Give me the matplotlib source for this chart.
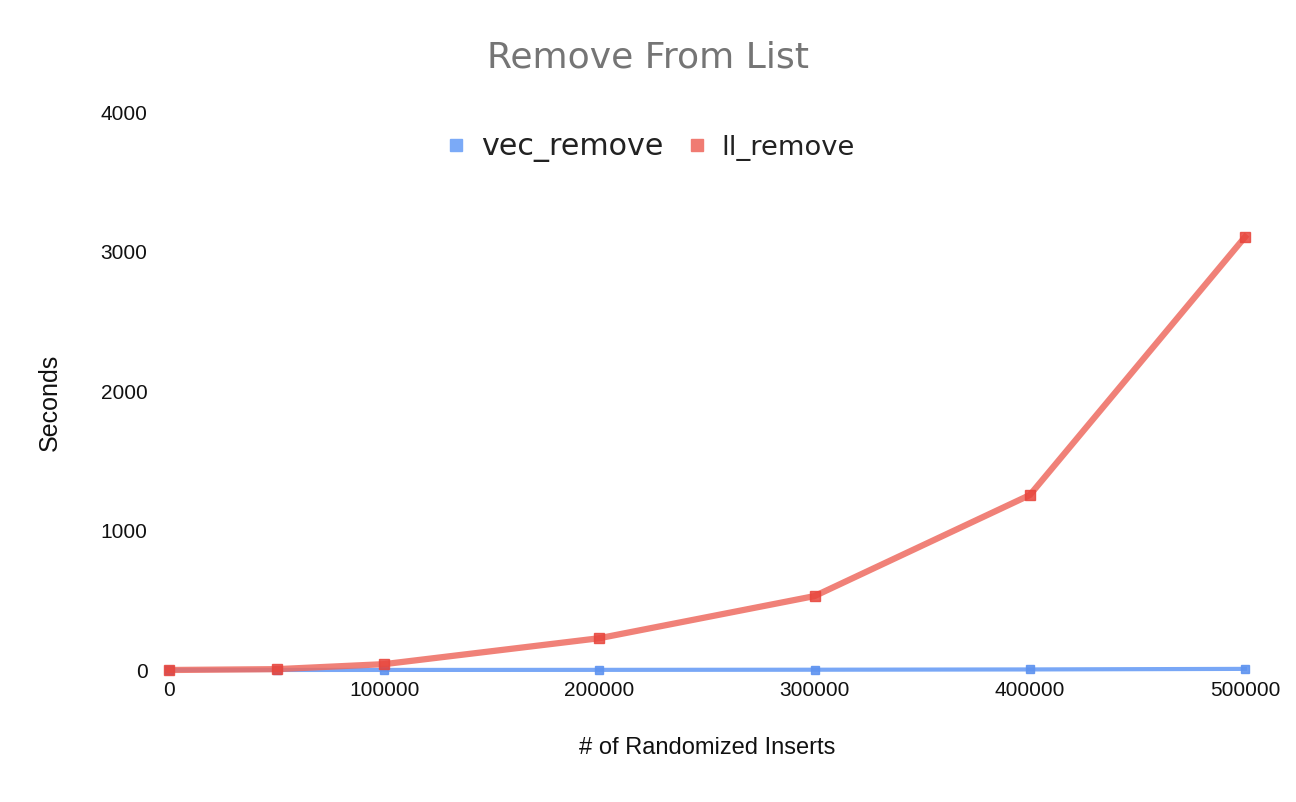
import matplotlib
matplotlib.use("Agg")
import matplotlib.pyplot as plt
from matplotlib.lines import Line2D

inserts = [0, 50000, 100000, 200000, 300000, 400000, 500000]
vec_remove = [0, 0.2, 0.5, 1, 2, 4, 8]
ll_remove = [0, 6, 42, 228, 530, 1254, 3104]

title = "Remove From List"
xlabel = "# of Randomized Inserts"
ylabel = "Seconds"
xticks = [0, 100000, 200000, 300000, 400000, 500000]
yticks = [0, 1000, 2000, 3000, 4000]

blue = "#6a9ef5"
red = "#ee6b60"
red_marker = "#e8453c"
blue_marker = "#5f94f0"

fig = plt.figure(figsize=(12.96, 8.02), dpi=100)
ax = fig.add_axes([169/1296, 1-670/802, (1245-169)/1296, (670-112)/802])

ax.plot(inserts, vec_remove, color=blue, lw=3, alpha=0.9, marker="s", ms=6,
        mfc=blue_marker, mec=blue_marker, clip_on=False, zorder=3)
ax.plot(inserts, ll_remove, color=red, lw=4.5, alpha=0.85, marker="s", ms=7.5,
        mfc=red_marker, mec=red_marker, clip_on=False, zorder=4)

ax.set_xlim(0, 500000)
ax.set_ylim(0, 4000)
ax.set_xticks(xticks)
ax.set_xticklabels([str(v) for v in xticks])
ax.set_yticks(yticks)
ax.set_yticklabels([str(v) for v in yticks])
for s in ax.spines.values():
    s.set_visible(False)
ax.tick_params(axis="both", length=0, labelsize=15, labelcolor="#111111")
ax.tick_params(axis="y", pad=15.5)
ax.tick_params(axis="x", pad=8)
for lab in ax.get_xticklabels() + ax.get_yticklabels():
    lab.set_family(["Liberation Sans", "DejaVu Sans"])

fig.text(0.5, 1-57/802, title, ha="center", va="center", fontsize=26,
         color="#757575", family="DejaVu Sans")
fig.text(707/1296, 1-748/802, xlabel, ha="center", va="center", fontsize=17,
         color="#111111", family=["Liberation Sans", "DejaVu Sans"])
fig.text(50/1296, 1-402/802, ylabel, ha="center", va="center", fontsize=18,
         rotation=90, color="#111111", family=["Liberation Sans", "DejaVu Sans"])

handles = [
    Line2D([], [], ls="none", marker="s", ms=9, mfc="#7baaf7", mec="#7baaf7"),
    Line2D([], [], ls="none", marker="s", ms=9, mfc="#f07b72", mec="#f07b72"),
]
leg = fig.legend(handles, ["vec_remove", "ll_remove"], loc="center",
                 bbox_to_anchor=(650/1296, 1-147/802), ncol=2, frameon=False,
                 fontsize=20, handlelength=0.8, handletextpad=0.5, columnspacing=0.8)
leg.get_texts()[0].set_fontsize(21.7)
leg.get_texts()[1].set_fontsize(19.7)
for t in leg.get_texts():
    t.set_color("#222222")

fig.savefig("out.png", dpi=100)
